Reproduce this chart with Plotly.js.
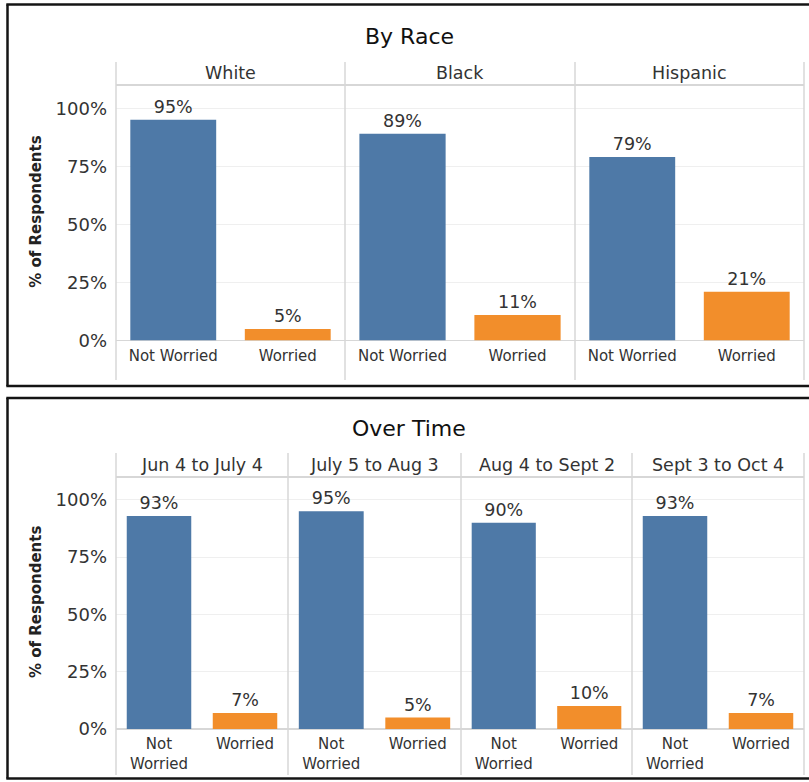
<!DOCTYPE html>
<html>
<head>
<meta charset="utf-8">
<script src="https://cdn.plot.ly/plotly-3.0.1.min.js"></script>
<style>
  html, body { margin: 0; padding: 0; background: #ffffff; }
  #chart { width: 809px; height: 782px; }
</style>
</head>
<body>
<div id="chart"></div>
<script>
// Survey results: share of respondents worried / not worried
const responses = ['Not Worried', 'Worried'];
const timeTickText = ['Not<br>Worried', 'Worried'];

const raceGroups = ['White', 'Black', 'Hispanic'];
const raceNotWorried = [95, 89, 79];
const raceWorried = [5, 11, 21];

const timeGroups = ['Jun 4 to July 4', 'July 5 to Aug 3', 'Aug 4 to Sept 2', 'Sept 3 to Oct 4'];
const timeNotWorried = [93, 95, 90, 93];
const timeWorried = [7, 5, 10, 7];

const yTickVals = [0, 25, 50, 75, 100];
const yTickText = ['0%', '25%', '50%', '75%', '100%'];

const panelTitles = ['By Race', 'Over Time'];
const yTitle = '% of Respondents';

// ---- page geometry (pixels) ----
const W = 809, H = 782;
const fx = x => x / W;
const fy = y => 1 - y / H;

const FONT = 'DejaVu Sans, Verdana, sans-serif';
const TEXT = '#333333';
const BLUE = '#4e79a7';
const ORANGE = '#f28e2b';
const GRID = '#efefef';
const RULE = '#d7d7d7';

const rows = [
  { groups: raceGroups, notW: raceNotWorried, w: raceWorried, edges: [116, 345, 575, 804],
    base: 340.5, top: 85, headerY: 73, titleY: 36, ruleTop: 62, ruleBottom: 380,
    boxTop: 4.5, boxBottom: 386, ticktext: responses },
  { groups: timeGroups, notW: timeNotWorried, w: timeWorried, edges: [116, 288, 461, 632, 804],
    base: 729, top: 477, headerY: 465, titleY: 428, ruleTop: 453, ruleBottom: 775,
    boxTop: 398, boxBottom: 778.5, ticktext: timeTickText }
];

const data = [];
const layout = {
  width: W, height: H,
  margin: { l: 0, r: 0, t: 0, b: 0 },
  paper_bgcolor: '#ffffff',
  plot_bgcolor: 'rgba(0,0,0,0)',
  showlegend: false,
  bargap: 0.25,
  font: { family: FONT, color: TEXT, size: 15 },
  shapes: [],
  annotations: []
};

let n = 0;
rows.forEach((row, r) => {
  row.groups.forEach((g, i) => {
    n += 1;
    const sfx = n === 1 ? '' : String(n);
    data.push({
      type: 'bar',
      x: responses,
      y: [row.notW[i], row.w[i]],
      xaxis: 'x' + sfx,
      yaxis: 'y' + sfx,
      marker: { color: [BLUE, ORANGE], line: { width: 0 } },
      texttemplate: '%{y}%',
      textposition: 'outside',
      textfont: { family: FONT, size: 17.5, color: TEXT },
      cliponaxis: false,
      hoverinfo: 'skip'
    });
    layout['xaxis' + sfx] = {
      domain: [fx(row.edges[i]), fx(row.edges[i + 1])],
      anchor: 'y' + sfx,
      type: 'category',
      range: [-0.5, 1.5],
      tickvals: responses,
      ticktext: row.ticktext,
      ticks: '',
      showgrid: false,
      zeroline: false,
      showline: false,
      tickfont: { family: FONT, size: 15, color: TEXT },
      ticklabelstandoff: 4,
      fixedrange: true
    };
    layout['yaxis' + sfx] = {
      domain: [fy(row.base), fy(row.top)],
      anchor: 'x' + sfx,
      range: [0, 110],
      tickvals: yTickVals,
      ticktext: yTickText,
      showticklabels: i === 0,
      ticks: '',
      showgrid: true,
      gridcolor: GRID,
      gridwidth: 1,
      zeroline: true,
      zerolinecolor: RULE,
      zerolinewidth: 1.5,
      showline: false,
      tickfont: { family: FONT, size: 18, color: TEXT },
      ticklabelstandoff: 8,
      fixedrange: true
    };
    // facet header
    layout.annotations.push({
      xref: 'paper', yref: 'paper',
      x: fx((row.edges[i] + row.edges[i + 1]) / 2), y: fy(row.headerY),
      xanchor: 'center', yanchor: 'middle',
      text: g, showarrow: false,
      font: { family: FONT, size: 17.5, color: TEXT }
    });
  });

  // panel title
  layout.annotations.push({
    xref: 'paper', yref: 'paper', x: fx(409), y: fy(row.titleY),
    xanchor: 'center', yanchor: 'middle', text: panelTitles[r], showarrow: false,
    font: { family: FONT, size: 22, color: '#111111' }
  });
  // vertical axis title
  layout.annotations.push({
    xref: 'paper', yref: 'paper', x: fx(36), y: fy((row.base + row.top) / 2 - 1),
    xanchor: 'center', yanchor: 'middle', text: '<b>' + yTitle + '</b>', textangle: -90,
    showarrow: false, font: { family: FONT, size: 15, color: '#222222' }
  });

  // facet dividers
  row.edges.forEach(e => {
    layout.shapes.push({
      type: 'line', xref: 'paper', yref: 'paper', layer: 'above',
      x0: fx(e), x1: fx(e), y0: fy(row.ruleTop), y1: fy(row.ruleBottom),
      line: { color: RULE, width: 1.5 }
    });
  });
  // rule under facet headers
  layout.shapes.push({
    type: 'line', xref: 'paper', yref: 'paper', layer: 'above',
    x0: fx(row.edges[0]), x1: fx(row.edges[row.edges.length - 1]),
    y0: fy(row.top), y1: fy(row.top),
    line: { color: RULE, width: 2 }
  });
  // panel frame (open on the right edge of the page)
  const frame = { color: '#141414', width: 2.5 };
  layout.shapes.push(
    { type: 'line', xref: 'paper', yref: 'paper', layer: 'above',
      x0: fx(6.3), x1: fx(812), y0: fy(row.boxTop), y1: fy(row.boxTop), line: frame },
    { type: 'line', xref: 'paper', yref: 'paper', layer: 'above',
      x0: fx(6.3), x1: fx(812), y0: fy(row.boxBottom), y1: fy(row.boxBottom), line: frame },
    { type: 'line', xref: 'paper', yref: 'paper', layer: 'above',
      x0: fx(7.5), x1: fx(7.5), y0: fy(row.boxTop), y1: fy(row.boxBottom), line: frame }
  );
});

Plotly.newPlot('chart', data, layout, { displayModeBar: false, staticPlot: true });
</script>
</body>
</html>
